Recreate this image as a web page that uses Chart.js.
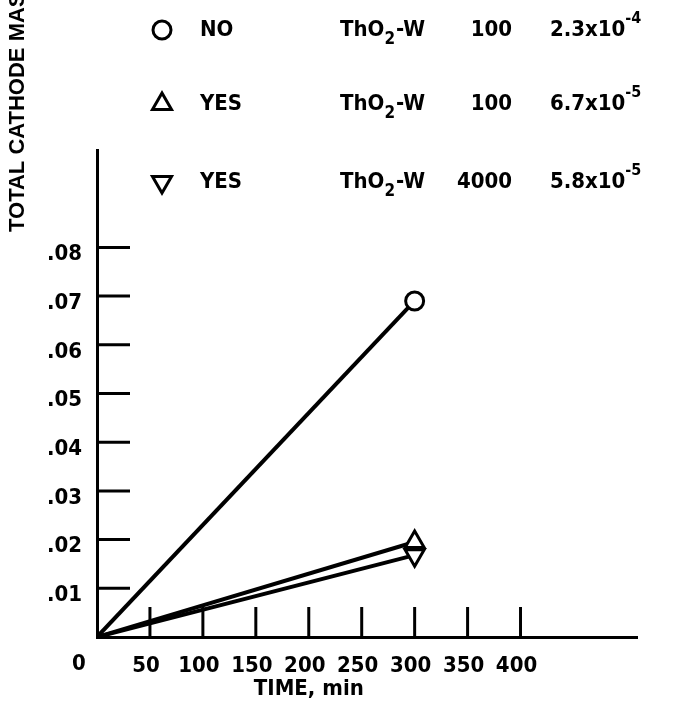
<!DOCTYPE html>
<html>
<head>
<meta charset="utf-8">
<script src="https://cdn.jsdelivr.net/npm/chart.js@4.4.0/dist/chart.umd.min.js"></script>
<style>
  body { margin: 0; background: #fff; }
  canvas { display: block; }
</style>
</head>
<body>
<canvas id="massChart" width="674" height="710"></canvas>
<script>
// data
var times = [0, 300];
var massNo = [0, 0.069];
var massYes100 = [0, 0.0195];
var massYes4000 = [0, 0.0168];

var xTickVals = [50, 100, 150, 200, 250, 300, 350, 400];
var yTickVals = [0.01, 0.02, 0.03, 0.04, 0.05, 0.06, 0.07, 0.08];

// key table at the top
var keyTreated = ['NO', 'YES', 'YES'];
var keyCathode = ['ThO', 'ThO', 'ThO'];
var keyCurrent = ['100', '100', '4000'];
var keyRate = ['2.3x10', '6.7x10', '5.8x10'];
var keyRateExp = ['-4', '-5', '-5'];

var FONT = "'DejaVu Sans Condensed', 'Liberation Sans Narrow', sans-serif";
var styles = [
  { pointStyle: 'circle', rotation: 0, radius: 9 },
  { pointStyle: 'triangle', rotation: 0, radius: 11 },
  { pointStyle: 'triangle', rotation: 180, radius: 11 }
];

function series(vals, st) {
  return {
    data: times.map(function (t, i) { return { x: t, y: vals[i] }; }),
    borderColor: '#000',
    borderWidth: 4,
    pointStyle: st.pointStyle,
    rotation: st.rotation,
    pointRadius: [0, st.radius],
    pointBorderWidth: 3,
    pointBorderColor: '#000',
    pointBackgroundColor: '#fff',
    tension: 0
  };
}

var decor = {
  id: 'decor',
  beforeDatasetsDraw: function (chart) {
    var ctx = chart.ctx, xs = chart.scales.x, ys = chart.scales.y;
    var a = chart.chartArea;
    ctx.save();
    ctx.strokeStyle = '#000';
    ctx.lineWidth = 3;
    xTickVals.forEach(function (v) {
      var px = xs.getPixelForValue(v);
      ctx.beginPath(); ctx.moveTo(px, a.bottom); ctx.lineTo(px, a.bottom - 30); ctx.stroke();
    });
    yTickVals.forEach(function (v) {
      var py = ys.getPixelForValue(v);
      ctx.beginPath(); ctx.moveTo(a.left, py); ctx.lineTo(a.left + 33, py); ctx.stroke();
    });
    ctx.restore();
  },
  afterDraw: function (chart) {
    var ctx = chart.ctx, xs = chart.scales.x, a = chart.chartArea;
    ctx.save();
    ctx.fillStyle = '#000';
    ctx.textBaseline = 'middle';

    // origin label and x title
    ctx.font = 'bold 22px ' + FONT;
    ctx.textAlign = 'center';
    ctx.fillText('0', xs.getPixelForValue(0) - 18, a.bottom + 27);
    ctx.fillText('TIME, min', xs.getPixelForValue(200), a.bottom + 52);

    // y title, runs off the top
    ctx.save();
    ctx.translate(18, 232);
    ctx.rotate(-Math.PI / 2);
    ctx.textAlign = 'left';
    ctx.font = 'bold 22px "Liberation Sans", sans-serif';
    ctx.fillText('TOTAL CATHODE MASS', 0, 0);
    ctx.restore();

    // key
    var rowY = [30, 104, 182];
    for (var i = 0; i < 3; i++) {
      var y = rowY[i];
      ctx.strokeStyle = '#000';
      ctx.fillStyle = '#fff';
      ctx.lineWidth = 3;
      Chart.helpers.drawPoint(ctx, { pointStyle: styles[i].pointStyle, rotation: styles[i].rotation, radius: styles[i].radius, borderWidth: 3 }, 162, y);
      ctx.fillStyle = '#000';
      ctx.font = 'bold 22px ' + FONT;
      ctx.textAlign = 'left';
      ctx.fillText(keyTreated[i], 200, y);
      ctx.fillText(keyCathode[i], 340, y);
      var w = ctx.measureText(keyCathode[i]).width;
      ctx.font = 'bold 17px ' + FONT;
      ctx.fillText('2', 340 + w, y + 10);
      var w2 = ctx.measureText('2').width;
      ctx.font = 'bold 22px ' + FONT;
      ctx.fillText('-W', 340 + w + w2 + 1, y);
      ctx.textAlign = 'right';
      ctx.fillText(keyCurrent[i], 512, y);
      ctx.textAlign = 'left';
      ctx.fillText(keyRate[i], 550, y);
      var w3 = ctx.measureText(keyRate[i]).width;
      ctx.font = 'bold 16px ' + FONT;
      ctx.fillText(keyRateExp[i], 550 + w3, y - 11);
    }
    ctx.restore();
  }
};

new Chart(document.getElementById('massChart'), {
  type: 'line',
  data: {
    datasets: [
      series(massNo, styles[0]),
      series(massYes100, styles[1]),
      series(massYes4000, styles[2])
    ]
  },
  options: {
    responsive: false,
    animation: false,
    layout: { padding: { top: 150, right: 37, left: 0, bottom: 0 } },
    plugins: { legend: { display: false }, tooltip: { enabled: false } },
    scales: {
      x: {
        type: 'linear',
        min: 0,
        max: 510,
        afterBuildTicks: function (s) { s.ticks = xTickVals.map(function (v) { return { value: v }; }); },
        afterFit: function (s) { s.height = 73; },
        grid: { display: false, drawTicks: false },
        border: { display: true, color: '#000', width: 3 },
        ticks: {
          color: '#000',
          padding: 16,
          labelOffset: -4,
          maxRotation: 0,
          autoSkip: false,
          font: { family: FONT, size: 22, weight: 'bold' }
        }
      },
      y: {
        min: 0,
        max: 0.1,
        afterBuildTicks: function (s) { s.ticks = yTickVals.map(function (v) { return { value: v }; }); },
        afterFit: function (s) { s.width = 97; },
        grid: { display: false, drawTicks: false },
        border: { display: true, color: '#000', width: 3 },
        ticks: {
          color: '#000',
          padding: 15,
          labelOffset: 7,
          autoSkip: false,
          font: { family: FONT, size: 22, weight: 'bold' },
          callback: function (v) { return '.' + String(Math.round(v * 100)).padStart(2, '0'); }
        }
      }
    }
  },
  plugins: [decor]
});
</script>
</body>
</html>
